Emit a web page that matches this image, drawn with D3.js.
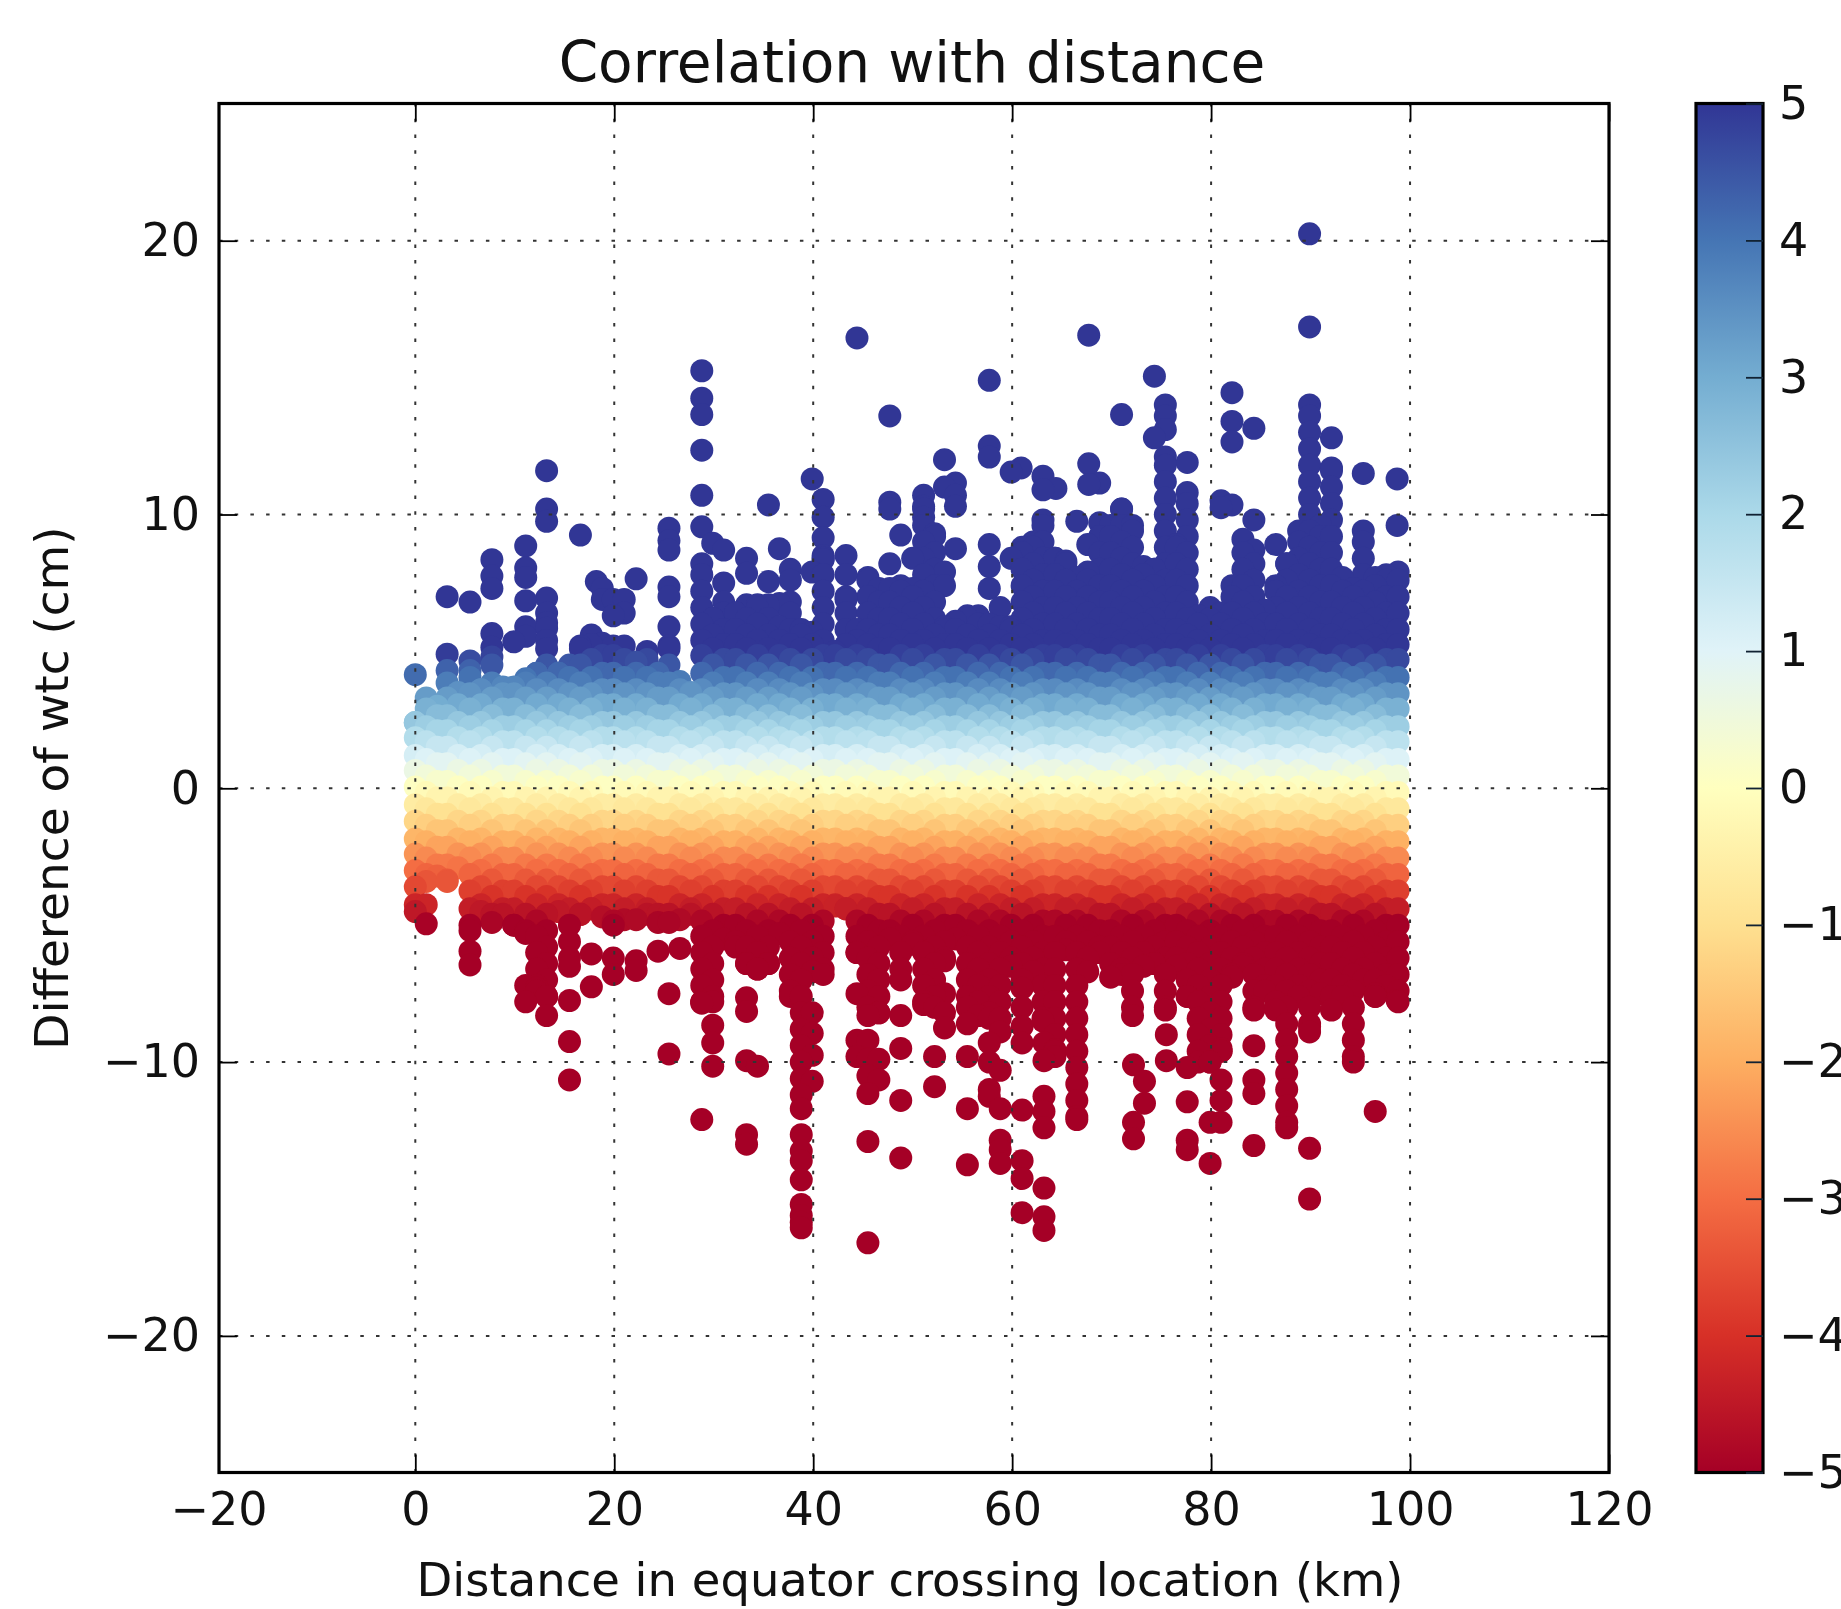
<!DOCTYPE html>
<html>
<head>
<meta charset="utf-8">
<script src="https://d3js.org/d3.v7.min.js"></script>
<style>
  body { margin: 0; background: #fff; }
  text { font-family: "DejaVu Sans", sans-serif; fill: #111; }
  svg { filter: blur(0.6px); }
</style>
</head>
<body>
<div id="chart"></div>
<script>
var xTicks = [-20, 0, 20, 40, 60, 80, 100, 120];
var yTicks = [-20, -10, 0, 10, 20];
var barTicks = [-5, -4, -3, -2, -1, 0, 1, 2, 3, 4, 5];

// one column of the scatter per equator crossing distance
var columnKm = [0, 1.1, 2.2, 3.2, 4.3, 5.5, 6.6, 7.7, 8.8, 9.9, 11.1, 12.2, 13.2, 14.4, 15.5, 16.6, 17.7, 18.8, 19.9, 21, 22.2, 23.3, 24.4, 25.5, 26.6, 27.7,
  28.8, 29.9, 31, 32.2, 33.3, 34.4, 35.5, 36.6, 37.7, 38.8, 39.9, 41, 42.2, 43.3, 44.4, 45.5, 46.6, 47.7, 48.8, 50,
  51.1, 52.2, 53.2, 54.3, 55.5, 56.6, 57.7, 58.8, 59.9, 61, 62.1, 63.1, 64.3, 65.4, 66.5, 67.6, 68.8, 69.9, 71, 72.1,
  73.2, 74.3, 75.4, 76.5, 77.6, 78.7, 79.9, 81, 82.1, 83.2, 84.3, 85.4, 86.5, 87.6, 88.8, 89.9, 91, 92.1, 93.2,
  94.3, 95.3, 96.5, 97.6, 98.8];
// highest and lowest point of the unbroken stack in each column
var stackTop = [2.4, 3.3, 3.0, 4.3, 3.5, 4.3, 3.6, 4.8, 3.7, 3.7, 4.0, 4.2, 5.4, 4.2, 4.5, 5.2, 5.6, 5.3, 5.2, 5.2, 4.6, 5.0, 4.2, 5.2, 3.9, 3.5,
  8.2, 6.2, 6.8, 6.4, 6.7, 6.7, 6.7, 5.9, 6.8, 5.8, 5.7, 8.5, 5.0, 6.9, 5.8, 7.7, 7.3, 7.3, 7.4, 7.3,
  10.7, 9.3, 5.9, 6.1, 6.3, 6.3, 6.0, 5.9, 5.9, 8.8, 9.0, 9.8, 8.4, 8.3, 7.7, 7.9, 9.7, 9.6, 10.2, 9.6,
  8.1, 8.0, 12.1, 8.9, 10.8, 6.3, 6.6, 6.4, 7.4, 9.1, 8.7, 6.5, 7.4, 8.2, 9.4, 14.0, 9.6, 11.7, 7.7,
  7.3, 9.4, 7.7, 7.8, 7.9];
var stackBottom = [-4.5, -3.4, -3.2, -3.4, -2.9, -5.2, -4.5, -4.9, -4.6, -5.0, -5.3, -7.3, -7.6, -4.5, -6.5, -4.6, -4.4, -4.7, -5.0, -4.8, -4.8, -4.6, -4.9, -4.9, -4.8, -4.6,
  -7.8, -7.8, -5.5, -5.8, -6.4, -6.6, -6.4, -5.3, -7.6, -11.7, -6.7, -6.8, -4.3, -4.4, -6.0, -8.3, -8.2, -5.5, -7.0, -5.7,
  -7.9, -8.0, -6.3, -5.5, -8.0, -8.3, -8.4, -8.9, -6.5, -7.3, -6.7, -8.5, -9.8, -5.9, -12.1, -6.7, -6.0, -6.9, -6.8, -8.3,
  -6.5, -6.4, -8.1, -6.5, -7.6, -10.0, -10.0, -9.6, -6.9, -6.5, -8.1, -7.4, -8.1, -12.4, -7.6, -8.9, -7.5, -8.1, -7.6,
  -10.0, -7.0, -7.6, -7.2, -7.8];

// three staggered sets of readings, the stacks take them in this uneven order
var levelsA = [-12.6, -12.0, -11.4, -10.8, -10.2, -9.6, -9.0, -8.4, -7.8, -7.2, -6.6, -6.0, -5.4, -4.85, -4.25, -3.6, -3.0, -2.4, -1.85, -1.2, -0.6,
  0.05, 0.65, 1.2, 1.85, 2.4, 3.05, 3.6, 4.2, 4.85, 5.4, 6.0, 6.6, 7.2, 7.8, 8.4, 9.0, 9.6, 10.2, 10.8, 11.4, 12.0, 12.6, 13.2, 13.8];
var levelsB = [-12.4, -11.8, -11.2, -10.6, -10.0, -9.4, -8.8, -8.2, -7.6, -7.0, -6.4, -5.8, -5.2, -4.6, -3.95, -3.35, -2.8, -2.15, -1.55, -0.95, -0.35,
  0.25, 0.9, 1.5, 2.1, 2.65, 3.3, 3.85, 4.5, 5.1, 5.6, 6.2, 6.8, 7.4, 8.0, 8.6, 9.2, 9.8, 10.4, 11.0, 11.6, 12.2, 12.8, 13.4, 14.0];
var levelsC = [-12.2, -11.6, -11.0, -10.4, -9.8, -9.2, -8.6, -8.0, -7.4, -6.8, -6.2, -5.6, -5.0, -4.4, -3.75, -3.15, -2.55, -1.95, -1.35, -0.75, -0.15,
  0.45, 1.05, 1.7, 2.25, 2.9, 3.45, 4.05, 4.7, 5.25, 5.8, 6.4, 7.0, 7.6, 8.2, 8.8, 9.4, 10.0, 10.6, 11.2, 11.8, 12.4, 13.0, 13.6, 14.1];
var levelOrder = [0, 2, 1, 1, 0, 2, 0, 1, 2, 2, 1, 0, 1, 0, 2, 1, 2, 0, 0, 2];

// points standing clear of the stacks
var spotKm = [0, 3.2, 3.2, 5.5, 5.5, 7.7, 7.7, 7.7, 7.7, 7.7, 9.9, 11.1, 11.1, 11.1, 11.1, 11.1, 11.1,
  13.2, 13.2, 13.2, 13.2, 13.2, 13.2, 13.2, 16.6, 18.2, 18.8, 18.8, 19.9, 19.9, 21, 21, 22.2,
  25.5, 25.5, 25.5, 25.5, 25.5, 25.5, 28.8, 28.8, 28.8, 28.8, 28.8, 28.8, 29.9, 31, 31, 33.3, 33.3, 35.5, 35.5,
  36.6, 36.6, 37.7, 37.7, 39.9, 39.9, 41, 41, 41, 41, 43.3, 43.3, 43.3, 44.4, 47.7, 47.7, 47.7, 47.7, 48.8, 50,
  51.1, 51.1, 53.2, 53.2, 53.2, 53.2, 54.3, 54.3, 54.3, 54.3, 57.7, 57.7, 57.7, 57.7, 57.7, 57.7, 58.8, 59.9, 59.9, 60.9,
  63.1, 63.1, 64.4, 66.5, 67.7, 67.7, 67.7, 67.6, 68.8, 71, 74.3, 74.3, 75.4, 75.4, 75.4, 77.6,
  81, 81, 82.1, 82.1, 82.1, 82.1, 84.3, 84.3, 86.5, 89.9, 89.9, 92.1, 95.3, 98.7, 98.7,
  1.1, 1.1, 5.5, 5.5, 11.1, 11.1, 12.2, 13.2, 15.5, 15.5, 15.5, 17.7, 17.7, 19.9, 19.9, 22.2, 22.2, 24.4, 25.5, 25.5, 26.6,
  28.8, 28.8, 29.9, 29.9, 29.9, 33.3, 33.3, 33.3, 33.3, 33.3, 34.4,
  38.8, 38.8, 38.8, 38.8, 38.8, 38.8, 38.8, 38.8, 39.9, 39.9, 39.9, 39.9, 44.4, 44.4, 44.4,
  45.5, 45.5, 45.5, 45.5, 45.5, 45.5, 46.6, 46.6, 48.8, 48.8, 48.8, 48.8,
  52.2, 52.2, 53.2, 53.2, 53.2, 55.5, 55.5, 55.5, 55.5, 57.7, 57.7, 57.7, 57.7, 58.8, 58.8, 58.8, 58.8, 58.8,
  61, 61, 61, 61, 61, 61, 61, 63.2, 63.2, 63.2, 63.2, 63.2, 63.2, 63.2, 63.2, 64.3,
  72.2, 72.2, 72.2, 73.3, 73.3, 75.5, 75.5, 77.6, 77.6, 77.6, 77.6, 79.9, 79.9,
  81, 81, 81, 81, 84.3, 84.3, 84.3, 84.3, 89.9, 89.9, 89.9, 96.5, 96.5, 98.7];
var spotWtc = [4.15, 7.0, 4.9, 6.8, 4.65, 8.35, 7.75, 7.3, 5.65, 5.15, 5.35, 8.85, 8.05, 7.7, 6.85, 5.9, 5.55,
  11.6, 10.2, 9.75, 6.95, 6.4, 6.05, 5.85, 9.25, 7.55, 7.3, 6.9, 6.9, 6.3, 6.9, 6.4, 7.65,
  9.5, 9.05, 8.7, 7.35, 7.0, 5.9, 15.25, 14.25, 13.65, 12.35, 10.7, 9.55, 8.95, 8.7, 7.5, 8.4, 7.85, 10.35, 7.55,
  8.75, 6.75, 8.0, 7.6, 11.3, 7.9, 10.55, 9.9, 9.15, 8.35, 8.5, 7.8, 7.0, 16.45, 13.6, 10.45, 10.2, 8.2, 9.25, 8.4,
  10.3, 9.9, 12.0, 11.0, 7.9, 7.4, 11.15, 10.7, 10.3, 8.75, 14.9, 12.5, 12.1, 8.9, 8.1, 7.3, 6.6, 11.55, 8.4, 11.7,
  11.4, 10.9, 10.95, 9.75, 16.55, 11.85, 11.1, 8.9, 11.15, 13.65, 15.05, 12.8, 14.0, 13.6, 13.1, 11.9,
  10.5, 10.25, 14.45, 13.4, 12.65, 10.35, 13.15, 9.8, 8.9, 20.25, 16.85, 12.8, 11.5, 11.3, 9.6,
  -4.25, -4.95, -5.95, -6.45, -7.2, -7.8, -7.4, -8.3, -7.75, -9.25, -10.65, -6.05, -7.25, -6.2, -6.8, -6.3, -6.65, -5.95, -7.5, -9.7, -5.85,
  -7.85, -12.1, -8.65, -9.3, -10.15, -7.65, -8.15, -9.95, -12.65, -13.0, -10.15,
  -12.65, -13.25, -13.6, -14.3, -15.2, -15.6, -15.85, -16.05, -8.2, -8.95, -9.75, -10.7, -7.5, -9.2, -9.8,
  -9.2, -9.9, -10.5, -11.15, -12.9, -16.6, -9.9, -10.65, -8.3, -9.5, -11.4, -13.5,
  -9.8, -10.9, -7.5, -8.75, -8.2, -9.8, -11.7, -13.75, -8.6, -9.3, -10.0, -11.25, -11.0, -10.3, -11.7, -12.85, -13.2, -13.7,
  -8.7, -9.3, -11.75, -13.6, -14.25, -15.5, -8.0, -9.3, -9.95, -11.25, -11.8, -12.4, -14.6, -15.65, -16.15, -9.55,
  -10.1, -12.2, -12.8, -10.7, -11.5, -9.0, -9.95, -10.2, -11.45, -12.85, -13.2, -12.2, -13.7,
  -10.65, -11.4, -12.2, -9.5, -9.4, -10.65, -11.15, -13.05, -8.7, -13.15, -15.0, -7.5, -11.8, -7.75];

var width = 1841, height = 1609;
var left = 219, right = 1609, top_ = 103.5, bottom = 1472.5;
var barLeft = 1696, barRight = 1763;

var svg = d3.select("#chart").append("svg")
    .attr("width", width)
    .attr("height", height)
    .style("display", "block");

// the -20 end sits a little inside the straight line through the other ticks
var x = d3.scaleLinear().domain([-20, 0, 120]).range([218.5, 415.3, 1609]);
var y = d3.scaleLinear().domain([-25, 25]).range([1472.8, 103.8]);

var color = d3.scaleLinear().domain(barTicks).range(d3.schemeRdYlBu[11]).clamp(true);

// points
var levelSets = [levelsA, levelsB, levelsC];
var points = [];
columnKm.forEach(function(km, i) {
    var levels = levelSets[levelOrder[i % levelOrder.length]];
    levels.forEach(function(v) {
        if (v <= stackTop[i] && v >= stackBottom[i]) points.push({km: km, wtc: v});
    });
    points.push({km: km, wtc: stackTop[i]});
    points.push({km: km, wtc: stackBottom[i]});
});
spotKm.forEach(function(km, i) {
    points.push({km: km, wtc: spotWtc[i]});
});
// lower values were plotted last, so the domes of each colour face upwards
points.sort(function(a, b) { return b.wtc - a.wtc; });

svg.append("g").selectAll("circle")
    .data(points)
    .enter()
    .append("circle")
    .attr("cx", function(d) { return x(d.km); })
    .attr("cy", function(d) { return y(d.wtc); })
    .attr("r", 11.5)
    .attr("fill", function(d) { return color(d.wtc); });

// grid goes over the points
var gridStyle = function(sel) {
    sel.attr("stroke", "#333").attr("stroke-width", 2).attr("stroke-dasharray", "3.5 12.2");
};
svg.append("g").selectAll("line")
    .data(xTicks.slice(1, -1))
    .enter().append("line")
    .attr("x1", function(d) { return x(d); })
    .attr("x2", function(d) { return x(d); })
    .attr("y1", bottom)
    .attr("y2", top_)
    .call(gridStyle);
svg.append("g").selectAll("line")
    .data(yTicks)
    .enter().append("line")
    .attr("x1", left)
    .attr("x2", right)
    .attr("y1", function(d) { return y(d); })
    .attr("y2", function(d) { return y(d); })
    .call(gridStyle);

// axes, ticks point inwards on all four sides
var tickLen = 18;
var styleAxis = function(g) {
    g.select(".domain").remove();
    g.selectAll(".tick line").attr("stroke", "#000").attr("stroke-width", 1.8);
    g.selectAll("text").style("font-family", '"DejaVu Sans", sans-serif').style("font-size", "46px").attr("fill", "#111");
};
svg.append("g")
    .attr("transform", "translate(0," + bottom + ")")
    .call(d3.axisBottom(x).tickValues(xTicks).tickFormat(d3.format("")).tickSizeInner(-tickLen).tickSizeOuter(0).tickPadding(20))
    .call(styleAxis);
svg.append("g")
    .attr("transform", "translate(0," + top_ + ")")
    .call(d3.axisTop(x).tickValues(xTicks).tickFormat("").tickSizeInner(-tickLen).tickSizeOuter(0))
    .call(styleAxis);
svg.append("g")
    .attr("transform", "translate(" + left + ",0)")
    .call(d3.axisLeft(y).tickValues(yTicks).tickFormat(d3.format("")).tickSizeInner(-tickLen).tickSizeOuter(0).tickPadding(19))
    .call(styleAxis);
svg.append("g")
    .attr("transform", "translate(" + right + ",0)")
    .call(d3.axisRight(y).tickValues(yTicks).tickFormat("").tickSizeInner(-tickLen).tickSizeOuter(0))
    .call(styleAxis);

svg.append("rect")
    .attr("x", left)
    .attr("y", top_)
    .attr("width", right - left)
    .attr("height", bottom - top_)
    .attr("fill", "none")
    .attr("stroke", "#000")
    .attr("stroke-width", 3.2);

// titles
svg.append("text")
    .attr("x", 912)
    .attr("y", 82)
    .attr("text-anchor", "middle")
    .style("font-size", "56.5px")
    .text("Correlation with distance");
svg.append("text")
    .attr("x", 910)
    .attr("y", 1596)
    .attr("text-anchor", "middle")
    .style("font-size", "46.5px")
    .text("Distance in equator crossing location (km)");
svg.append("text")
    .attr("transform", "translate(68,788) rotate(-90)")
    .attr("text-anchor", "middle")
    .style("font-size", "47px")
    .text("Difference of wtc (cm)");

// colorbar
var barScale = d3.scaleLinear().domain([-5, 5]).range([bottom, top_]);
var grad = svg.append("defs").append("linearGradient")
    .attr("id", "bar_grad")
    .attr("x1", 0).attr("x2", 0).attr("y1", 1).attr("y2", 0);
grad.selectAll("stop")
    .data(barTicks)
    .enter().append("stop")
    .attr("offset", function(d) { return (d + 5) / 10; })
    .attr("stop-color", function(d) { return color(d); });
svg.append("rect")
    .attr("x", barLeft)
    .attr("y", top_)
    .attr("width", barRight - barLeft)
    .attr("height", bottom - top_)
    .attr("fill", "url(#bar_grad)")
    .attr("stroke", "#000")
    .attr("stroke-width", 3.2);
svg.append("g")
    .attr("transform", "translate(" + barRight + ",0)")
    .call(d3.axisRight(barScale).tickValues(barTicks).tickFormat(d3.format("d")).tickSizeInner(-17).tickSizeOuter(0).tickPadding(16))
    .call(styleAxis)
    .call(function(g) { g.selectAll(".tick line").attr("stroke", "#123"); });
</script>
</body>
</html>
